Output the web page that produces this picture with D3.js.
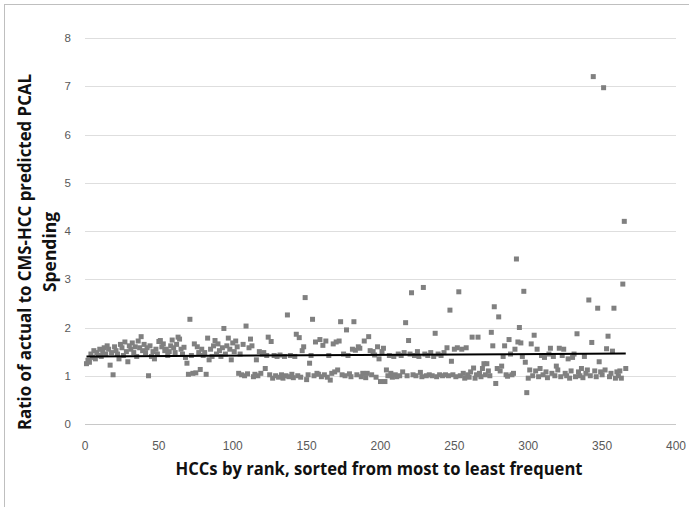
<!DOCTYPE html>
<html>
<head>
<meta charset="utf-8">
<script src="https://cdn.jsdelivr.net/npm/d3@7"></script>
<style>
	body { margin: 0; background: #ffffff; }
	#chart svg { display: block; }
</style>
</head>
<body>
<div id="chart"></div>
<script>
// ratio of actual to predicted spending, one value per HCC rank (1..366)
var ratios = [
	1.25, 1.32, 1.28, 1.45, 1.38, 1.52, 1.35, 1.48, 1.42, 1.55,
	1.40, 1.50, 1.58, 1.45, 1.62, 1.55, 1.22, 1.48, 1.02, 1.60,
	1.52, 1.45, 1.35, 1.65, 1.58, 1.42, 1.70, 1.50, 1.29, 1.62,
	1.55, 1.68, 1.48, 1.60, 1.40, 1.72, 1.58, 1.81, 1.52, 1.65,
	1.48, 1.58, 1.00, 1.62, 1.40, 1.50, 1.35, 1.55, 1.45, 1.71,
	1.73, 1.60, 1.66, 1.52, 1.55, 1.42, 1.50, 1.62, 1.74, 1.58,
	1.48, 1.65, 1.80, 1.76, 1.55, 1.45, 1.59, 1.38, 1.26, 1.03,
	2.17, 1.42, 1.05, 1.66, 1.06, 1.60, 1.48, 1.13, 1.55, 1.42,
	1.48, 1.03, 1.78, 1.33, 1.55, 1.40, 1.62, 1.73, 1.45, 1.66,
	1.52, 1.40, 1.58, 1.98, 1.45, 1.62, 1.78, 1.55, 1.33, 1.68,
	1.50, 1.72, 1.60, 1.05, 1.45, 1.02, 1.65, 1.00, 2.03, 1.04,
	1.58, 1.76, 1.62, 0.98, 1.03, 1.33, 1.00, 1.50, 1.05, 1.45,
	1.48, 1.15, 1.42, 1.80, 1.02, 1.71, 0.95, 1.42, 1.00, 1.40,
	0.97, 1.43, 1.02, 0.95, 1.40, 1.00, 2.26, 0.98, 1.42, 1.03,
	0.96, 1.40, 1.86, 1.00, 1.79, 0.97, 1.52, 1.60, 2.62, 0.92,
	1.02, 1.26, 1.42, 2.17, 1.00, 1.70, 1.05, 1.03, 1.75, 0.98,
	1.63, 1.02, 1.72, 0.97, 1.42, 0.91, 1.05, 1.66, 1.08, 1.70,
	1.12, 1.72, 2.12, 1.02, 1.45, 1.00, 1.95, 1.42, 1.04, 0.98,
	1.55, 2.12, 1.53, 1.02, 1.60, 1.57, 0.98, 1.05, 1.72, 0.96,
	1.05, 1.81, 1.52, 1.02, 1.50, 1.43, 0.97, 1.60, 1.35, 0.88,
	1.50, 1.57, 0.88, 1.12, 1.00, 1.42, 1.05, 0.97, 1.40, 1.02,
	0.98, 1.45, 1.00, 1.42, 1.08, 1.48, 2.10, 1.00, 1.73, 1.45,
	2.72, 1.02, 1.42, 1.00, 1.50, 1.40, 1.07, 0.98, 2.83, 1.45,
	1.00, 1.42, 1.02, 1.48, 1.00, 1.40, 1.88, 0.98, 1.45, 1.02,
	1.42, 1.00, 1.48, 1.02, 1.58, 1.00, 2.36, 1.30, 1.02, 1.55,
	0.98, 1.58, 2.74, 1.00, 1.55, 1.05, 0.95, 1.58, 1.02, 0.97,
	1.08, 1.80, 1.16, 0.95, 1.02, 1.80, 1.05, 0.98, 1.15, 1.25,
	1.02, 1.25, 1.10, 1.00, 1.90, 1.62, 2.43, 0.84, 1.15, 2.22,
	1.10, 1.20, 1.40, 1.62, 1.02, 0.99, 1.75, 1.45, 1.02, 1.05,
	1.55, 3.42, 1.70, 2.00, 1.68, 1.40, 2.75, 1.28, 0.65, 0.95,
	1.12, 1.66, 1.00, 1.84, 1.10, 1.55, 0.98, 1.15, 1.42, 1.02,
	1.38, 1.08, 0.96, 1.45, 1.57, 1.05, 1.40, 1.00, 1.20, 1.12,
	1.57, 0.98, 1.42, 1.55, 1.05, 1.00, 1.35, 0.95, 1.10, 1.38,
	1.45, 0.98, 1.87, 1.08, 1.00, 1.15, 0.96, 1.40, 1.05, 1.12,
	2.57, 1.00, 1.69, 7.20, 1.10, 0.98, 2.40, 1.29, 1.08, 1.02,
	6.97, 1.12, 1.56, 1.82, 0.98, 1.05, 1.51, 2.40, 0.95, 1.08,
	1.00, 1.10, 0.95, 2.90, 4.20, 1.15
];

// linear trendline, start and end
var trendX = [1, 366];
var trendY = [1.40, 1.46];

var xTicks = [0, 50, 100, 150, 200, 250, 300, 350, 400];
var yTicks = [0, 1, 2, 3, 4, 5, 6, 7, 8];

var xTitle = "HCCs by rank, sorted from most to least frequent";
var yTitle = ["Ratio of actual to CMS-HCC predicted PCAL", "Spending"];

var chart =
{
	initialize:function()
	{
		var width = 689, height = 507;

		var svg = d3.select("#chart")
		.append("svg")
		.attr("width", width)
		.attr("height", height);

		// outer frame of the chart
		svg.append("rect")
		.attr("x", 4.5)
		.attr("y", 4.5)
		.attr("width", 700)
		.attr("height", 520)
		.attr("fill", "none")
		.attr("stroke", "#bfbfbf");

		var x = d3.scaleLinear()
		.domain([0, 400])
		.range([85, 676]);

		var y = d3.scaleLinear()
		.domain([0, 8])
		.range([424, 38]);

		// horizontal gridlines
		svg.append("g")
		.selectAll("line")
		.data(yTicks)
		.enter()
		.append("line")
		.attr("x1", x(0))
		.attr("x2", x(400))
		.attr("y1", function(d)
		{
			return Math.round(y(d)) + 0.5;
		})
		.attr("y2", function(d)
		{
			return Math.round(y(d)) + 0.5;
		})
		.attr("stroke", function(d)
		{
			return d == 0 ? "#c8c8c8" : "#dedede";
		})
		.attr("stroke-width", 1);

		// y tick labels
		svg.append("g")
		.selectAll("text")
		.data(yTicks)
		.enter()
		.append("text")
		.attr("x", 71)
		.attr("y", function(d)
		{
			return y(d) + 4;
		})
		.attr("text-anchor", "end")
		.attr("font-family", "Liberation Sans, Arial, sans-serif")
		.attr("font-size", "11.5px")
		.attr("fill", "#595959")
		.text(function(d)
		{
			return "" + d;
		});

		// x tick labels
		svg.append("g")
		.selectAll("text")
		.data(xTicks)
		.enter()
		.append("text")
		.attr("x", function(d)
		{
			return x(d);
		})
		.attr("y", 450)
		.attr("text-anchor", "middle")
		.attr("font-family", "Liberation Sans, Arial, sans-serif")
		.attr("font-size", "12px")
		.attr("fill", "#595959")
		.text(function(d)
		{
			return "" + d;
		});

		// points
		svg.append("g")
		.selectAll("rect")
		.data(ratios)
		.enter()
		.append("rect")
		.attr("x", function(d, i)
		{
			return x(i + 1) - 2.5;
		})
		.attr("y", function(d)
		{
			return y(d) - 2.5;
		})
		.attr("width", 5)
		.attr("height", 5)
		.attr("fill", "#808080");

		// trendline
		var line = d3.line()
		.x(function(d)
		{
			return x(d[0]);
		})
		.y(function(d)
		{
			return y(d[1]);
		});

		svg.append("path")
		.datum(d3.zip(trendX, trendY))
		.attr("d", line)
		.attr("fill", "none")
		.attr("stroke", "#000000")
		.attr("stroke-width", 2);

		// axis titles
		svg.append("text")
		.attr("x", 379)
		.attr("y", 475)
		.attr("text-anchor", "middle")
		.attr("font-family", "Open Sans, Liberation Sans, sans-serif")
		.attr("font-weight", "bold")
		.attr("font-size", "18px")
		.attr("fill", "#111111")
		.attr("textLength", 407)
		.attr("lengthAdjust", "spacingAndGlyphs")
		.text(xTitle);

		svg.append("g")
		.attr("transform", "translate(0,252) rotate(-90)")
		.selectAll("text")
		.data(yTitle)
		.enter()
		.append("text")
		.attr("x", 0)
		.attr("y", function(d, i)
		{
			return 31 + i * 25;
		})
		.attr("text-anchor", "middle")
		.attr("font-family", "Open Sans, Liberation Sans, sans-serif")
		.attr("font-weight", "bold")
		.attr("font-size", "18px")
		.attr("fill", "#111111")
		.attr("textLength", function(d, i)
		{
			return i == 0 ? 356 : 80;
		})
		.attr("lengthAdjust", "spacingAndGlyphs")
		.text(function(d)
		{
			return d;
		});
	}
};

chart.initialize();
</script>
</body>
</html>
